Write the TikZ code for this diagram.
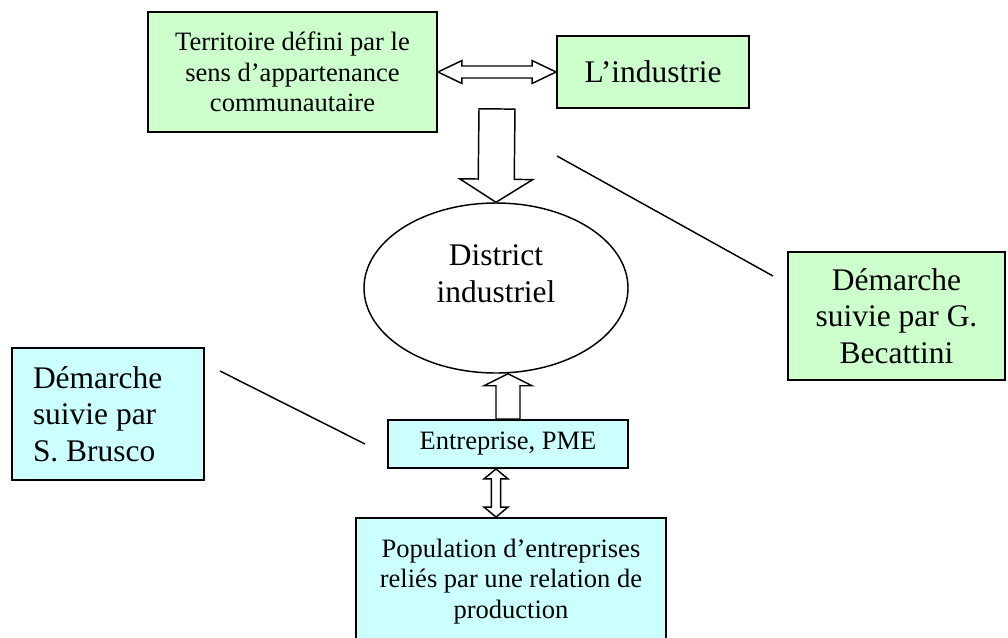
\documentclass[tikz,border=0pt]{standalone}
\usepackage{fontspec}
\setmainfont{Liberation Serif}
\usepackage{tikz}
\usetikzlibrary{calc,shapes.geometric}

\definecolor{boxgreen}{HTML}{CCFFCC}
\definecolor{boxcyan}{HTML}{CCFFFF}

\tikzset{
  boxline/.style={draw, line width=1.4pt, inner sep=0pt, align=flush center},
  greenbox/.style={boxline, fill=boxgreen},
  cyanbox/.style={boxline, fill=boxcyan},
  smalltext/.style={font=\fontsize{19.9}{22.9}\selectfont},
  bigtext/.style={font=\fontsize{23.6}{27.5}\selectfont},
  arrowline/.style={draw, fill=white, line width=1.1pt, line join=miter},
  leader/.style={line width=1.1pt},
}

% hollow block arrow: from, to, shaft half width, head half width, head length
\newcommand{\hollowarrow}[5]{%
  \coordinate (ha-h) at ($(#2)!#5!(#1)$);
  \draw[arrowline] ($(#1)!#3!90:(#2)$) -- ($(ha-h)!#3!90:(#2)$) -- ($(ha-h)!#4!90:(#2)$) -- (#2)
    -- ($(ha-h)!#4!-90:(#2)$) -- ($(ha-h)!#3!-90:(#2)$) -- ($(#1)!#3!-90:(#2)$) -- cycle;
}
% hollow block arrow with a head at both ends
\newcommand{\hollowdoublearrow}[5]{%
  \coordinate (ha-a) at ($(#1)!#5!(#2)$);
  \coordinate (ha-b) at ($(#2)!#5!(#1)$);
  \draw[arrowline] (#1) -- ($(ha-a)!#4!90:(#2)$) -- ($(ha-a)!#3!90:(#2)$) -- ($(ha-b)!#3!90:(#2)$)
    -- ($(ha-b)!#4!90:(#2)$) -- (#2) -- ($(ha-b)!#4!-90:(#2)$) -- ($(ha-b)!#3!-90:(#2)$)
    -- ($(ha-a)!#3!-90:(#2)$) -- ($(ha-a)!#4!-90:(#2)$) -- cycle;
}

\begin{document}
\begin{tikzpicture}[x=0.75pt,y=0.75pt,yscale=-1,xscale=1]
\fill[white] (0,0) rectangle (1008,637);
\useasboundingbox (0,0) rectangle (1008,637);

%Boxes
\node[greenbox, smalltext, minimum width=216.75pt, minimum height=90pt] (terr) at (292.5,72)
  {Territoire défini par le\\sens d’appartenance\\communautaire};
\node[greenbox, bigtext, minimum width=144pt, minimum height=54pt] (ind) at (653,72) {L’industrie};
\node[draw, ellipse, line width=1.1pt, inner sep=0pt, minimum width=198pt, minimum height=127.5pt] (district) at (496,288) {};
\node[bigtext, align=flush center] (districtlbl) at ($(district.center)+(0,-14)$) {District\\industriel};
\node[greenbox, bigtext, minimum width=162.75pt, minimum height=96pt] (becat) at (896.5,316)
  {Démarche\\suivie par G.\\Becattini};
\node[cyanbox, bigtext, align=flush left, text width=112.5pt, inner xsep=15.75pt, minimum height=99pt] (brusco) at (108,414)
  {Démarche\\suivie par\\S. Brusco};
\node[cyanbox, smalltext, minimum width=180pt, minimum height=36pt] (pme) at (508,444) {Entreprise, PME};
\node[cyanbox, smalltext, minimum width=232.5pt, minimum height=95.25pt] (pop) at (511,581.5)
  {Population d’entreprises\\reliés par une relation de\\production};

%Arrow ends
\coordinate (gapmid) at ($(terr.east)!0.5!(ind.west)$);
\coordinate (dstart) at (gapmid |- ind.south);
\coordinate (uptip) at (pme.north |- district.south);
\coordinate (vda) at (district.south |- pme.south);
\coordinate (vdb) at (district.south |- pop.north);

%Block arrows
\hollowdoublearrow{terr.east}{ind.west}{4.5pt}{8.6pt}{18pt}
\hollowarrow{dstart}{district.north}{13.5pt}{27.4pt}{17.3pt}
\hollowarrow{pme.north}{uptip}{9pt}{18pt}{9pt}
\hollowdoublearrow{vda}{vdb}{3.4pt}{9pt}{7.5pt}

%Straight Lines
\coordinate (indtail) at (557,156);
\coordinate (becattip) at (773,276);
\coordinate (bruscotail) at (220,371);
\coordinate (pmetip) at (365,444);
\draw[leader] (indtail) -- (becattip);
\draw[leader] (bruscotail) -- (pmetip);

\end{tikzpicture}
\end{document}
